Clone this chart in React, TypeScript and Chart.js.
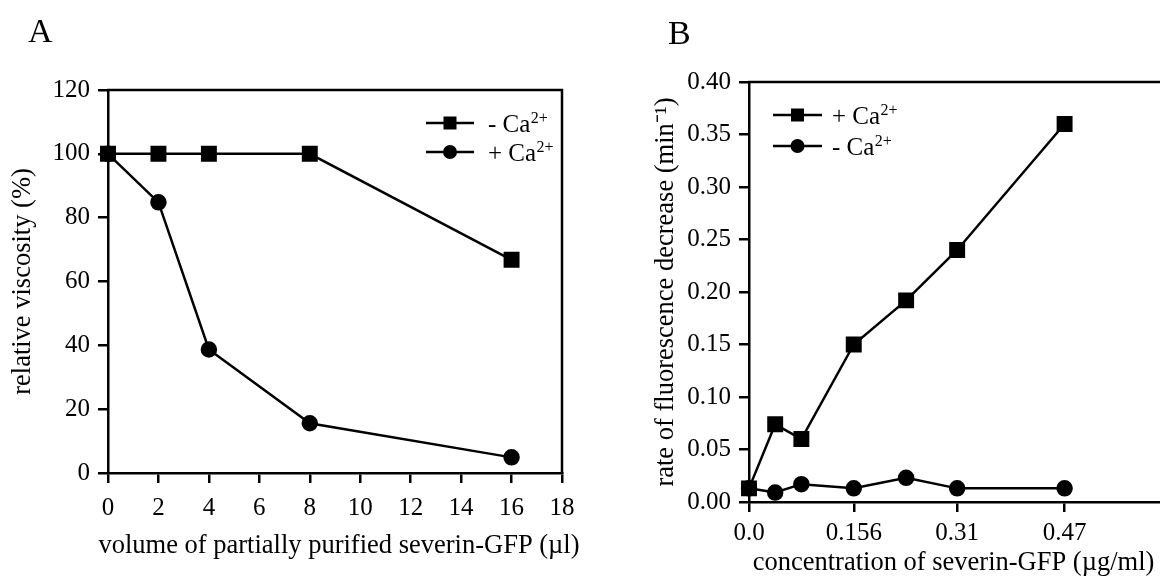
import React, { useEffect, useRef } from "react";
import { Chart, registerables } from "chart.js";

Chart.register(...registerables);

const FONT = "'Liberation Serif', 'Times New Roman', Times, serif";
const TICK_SIZE = 25;
const TITLE_SIZE = 26.5;
const LINE_W = 2.5;

// ---------- Panel A data ----------
const volumeUl = [0, 2, 4, 8, 16];
const viscosityMinusCa = [100, 100, 100, 100, 66.8];
const viscosityPlusCa = [100, 84.8, 38.7, 15.6, 4.9];
const panelALegend = ["- Ca", "+ Ca"];

// ---------- Panel B data ----------
const concentrationUgMl = [0, 0.039, 0.078, 0.156, 0.234, 0.31, 0.47];
const ratePlusCa = [0.013, 0.074, 0.06, 0.15, 0.192, 0.24, 0.36];
const rateMinusCa = [0.013, 0.009, 0.017, 0.013, 0.023, 0.013, 0.013];
const concentrationTicks = [0, 0.156, 0.31, 0.47];
const concentrationTickLabels = ["0.0", "0.156", "0.31", "0.47"];
const panelBLegend = ["+ Ca", "- Ca"];

const chargeSuperscript = "2+";

const framePlugin = {
  id: "frame",
  afterDraw(chart: any) {
    const { ctx, chartArea } = chart;
    const { left, right, top, bottom } = chartArea;
    ctx.save();
    ctx.strokeStyle = "#000";
    ctx.lineWidth = LINE_W;
    ctx.beginPath();
    ctx.moveTo(left - 1, top);
    ctx.lineTo(right, top);
    ctx.lineTo(right, bottom + 1);
    ctx.stroke();
    ctx.restore();
  },
};

const panelLetterPlugin = {
  id: "panelLetter",
  afterDraw(chart: any, _args: any, opts: any) {
    const { ctx } = chart;
    ctx.save();
    ctx.fillStyle = "#000";
    ctx.font = `34px ${FONT}`;
    ctx.textAlign = "left";
    ctx.textBaseline = "alphabetic";
    ctx.fillText(opts.text, opts.x, opts.y);
    ctx.restore();
  },
};

// Free-width axis title (Chart.js squeezes titles to the scale width)
const wideTitlePlugin = {
  id: "wideTitle",
  afterDraw(chart: any, _args: any, opts: any) {
    if (!opts || !opts.text) return;
    const { ctx, chartArea } = chart;
    ctx.save();
    ctx.fillStyle = "#000";
    ctx.font = `${TITLE_SIZE}px ${FONT}`;
    ctx.textAlign = "center";
    ctx.textBaseline = "middle";
    const cx = (chartArea.left + chartArea.right) / 2 + opts.dx;
    ctx.fillText(opts.text, cx, chartArea.bottom + opts.dy);
    ctx.restore();
  },
};

const seriesLegendPlugin = {
  id: "seriesLegend",
  afterDraw(chart: any, _args: any, opts: any) {
    const { ctx, chartArea } = chart;
    const x0 =
      opts.anchor === "right"
        ? chartArea.right - opts.offsetX
        : chartArea.left + opts.offsetX;
    ctx.save();
    ctx.fillStyle = "#000";
    ctx.strokeStyle = "#000";
    chart.data.datasets.forEach((ds: any, i: number) => {
      const y = chartArea.top + opts.offsetY + i * opts.rowGap;
      ctx.lineWidth = LINE_W;
      ctx.beginPath();
      ctx.moveTo(x0, y);
      ctx.lineTo(x0 + opts.lineLen, y);
      ctx.stroke();
      const cx = x0 + opts.lineLen / 2;
      if (ds.pointStyle === "rect") {
        ctx.fillRect(cx - 6.5, y - 6.5, 13, 13);
      } else {
        ctx.beginPath();
        ctx.arc(cx, y, 7, 0, Math.PI * 2);
        ctx.fill();
      }
      const tx = x0 + opts.lineLen + opts.textGap;
      ctx.font = `25px ${FONT}`;
      ctx.textAlign = "left";
      ctx.textBaseline = "alphabetic";
      ctx.fillText(opts.labels[i], tx, y + 9);
      const w = ctx.measureText(opts.labels[i]).width;
      ctx.font = `16px ${FONT}`;
      ctx.fillText(opts.superscript, tx + w + 0.5, y + 0);
    });
    ctx.restore();
  },
};

function axisBase() {
  return {
    border: { display: true, color: "#000", width: LINE_W },
    grid: {
      drawOnChartArea: false,
      drawTicks: true,
      tickLength: 10,
      color: "#000",
      lineWidth: LINE_W,
    },
  };
}

function seriesStyle(style: "rect" | "circle") {
  const r = style === "rect" ? 9.5 : 7;
  return {
    pointStyle: style,
    pointRadius: r,
    pointHoverRadius: r,
    borderColor: "#000",
    backgroundColor: "#000",
    borderWidth: LINE_W,
    tension: 0,
    clip: false,
  };
}

function buildConfigA(): any {
  return {
    type: "line",
    data: {
      datasets: [
        {
          label: panelALegend[0] + "²⁺",
          data: volumeUl.map((v, i) => ({ x: v, y: viscosityMinusCa[i] })),
          ...seriesStyle("rect"),
        },
        {
          label: panelALegend[1] + "²⁺",
          data: volumeUl.map((v, i) => ({ x: v, y: viscosityPlusCa[i] })),
          ...seriesStyle("circle"),
        },
      ],
    },
    options: {
      animation: false,
      responsive: false,
      events: [],
      layout: { padding: { top: 90, right: 28, left: 0, bottom: 0 } },
      plugins: {
        legend: { display: false },
        tooltip: { enabled: false },
        panelLetter: { text: "A", x: 28, y: 42 },
        wideTitle: {
          text: "volume of partially purified severin-GFP (µl)",
          dx: 4,
          dy: 73,
        },
        seriesLegend: {
          anchor: "right",
          offsetX: 136,
          offsetY: 33,
          rowGap: 29,
          lineLen: 48,
          textGap: 14,
          labels: panelALegend,
          superscript: chargeSuperscript,
        },
      },
      scales: {
        x: {
          type: "linear",
          min: 0,
          max: 18,
          ...axisBase(),
          ticks: { stepSize: 2, color: "#000", font: { family: FONT, size: TICK_SIZE }, padding: 10 },
          title: { display: false },
          afterFit(scale: any) {
            scale.height = 107;
          },
        },
        y: {
          type: "linear",
          min: 0,
          max: 120,
          ...axisBase(),
          ticks: { stepSize: 20, color: "#000", font: { family: FONT, size: TICK_SIZE }, padding: 8 },
          title: {
            display: true,
            text: "relative viscosity (%)",
            color: "#000",
            font: { family: FONT, size: TITLE_SIZE },
            padding: { top: 7, bottom: 0 },
          },
          afterFit(scale: any) {
            scale.width = 108;
          },
        },
      },
    },
    plugins: [framePlugin, panelLetterPlugin, wideTitlePlugin, seriesLegendPlugin],
  };
}

function buildConfigB(): any {
  return {
    type: "line",
    data: {
      datasets: [
        {
          label: panelBLegend[0] + "²⁺",
          data: concentrationUgMl.map((v, i) => ({ x: v, y: ratePlusCa[i] })),
          ...seriesStyle("rect"),
        },
        {
          label: panelBLegend[1] + "²⁺",
          data: concentrationUgMl.map((v, i) => ({ x: v, y: rateMinusCa[i] })),
          ...seriesStyle("circle"),
        },
      ],
    },
    options: {
      animation: false,
      responsive: false,
      events: [],
      layout: { padding: { top: 82, right: 11, left: 0, bottom: 0 } },
      plugins: {
        legend: { display: false },
        tooltip: { enabled: false },
        panelLetter: { text: "B", x: 28, y: 44 },
        wideTitle: {
          text: "concentration of severin-GFP (µg/ml)",
          dx: -5,
          dy: 61,
        },
        seriesLegend: {
          anchor: "left",
          offsetX: 24,
          offsetY: 33,
          rowGap: 31,
          lineLen: 49,
          textGap: 10,
          labels: panelBLegend,
          superscript: chargeSuperscript,
        },
      },
      scales: {
        x: {
          type: "linear",
          min: 0,
          max: 0.624,
          ...axisBase(),
          afterBuildTicks(scale: any) {
            scale.ticks = concentrationTicks.map((v) => ({ value: v }));
          },
          ticks: {
            color: "#000",
            font: { family: FONT, size: TICK_SIZE },
            padding: 6,
            callback: (value: number) => {
              const idx = concentrationTicks.findIndex((t) => Math.abs(t - value) < 1e-9);
              return idx >= 0 ? concentrationTickLabels[idx] : "";
            },
          },
          title: { display: false },
          afterFit(scale: any) {
            scale.height = 78;
          },
        },
        y: {
          type: "linear",
          min: 0,
          max: 0.4,
          ...axisBase(),
          ticks: {
            stepSize: 0.05,
            color: "#000",
            font: { family: FONT, size: TICK_SIZE },
            padding: 8,
            callback: (value: number) => value.toFixed(2),
          },
          title: {
            display: true,
            text: "rate of fluorescence decrease (min⁻¹)",
            color: "#000",
            font: { family: FONT, size: TITLE_SIZE },
            padding: { top: 10, bottom: 0 },
          },
          afterFit(scale: any) {
            scale.width = 109;
          },
        },
      },
    },
    plugins: [framePlugin, panelLetterPlugin, wideTitlePlugin, seriesLegendPlugin],
  };
}

function Panel({ build, left, width }: { build: () => any; left: number; width: number }) {
  const ref = useRef<HTMLCanvasElement | null>(null);
  useEffect(() => {
    if (!ref.current) return;
    const chart = new Chart(ref.current, build());
    return () => chart.destroy();
  }, [build]);
  return (
    <canvas
      ref={ref}
      width={width}
      height={580}
      style={{ position: "absolute", left, top: 0, width, height: 580 }}
    />
  );
}

export default function App() {
  return (
    <div
      style={{
        position: "fixed",
        left: 0,
        top: 0,
        width: 1160,
        height: 580,
        overflow: "hidden",
        background: "#fff",
      }}
    >
      <Panel build={buildConfigA} left={0} width={590} />
      <Panel build={buildConfigB} left={640} width={540} />
    </div>
  );
}
